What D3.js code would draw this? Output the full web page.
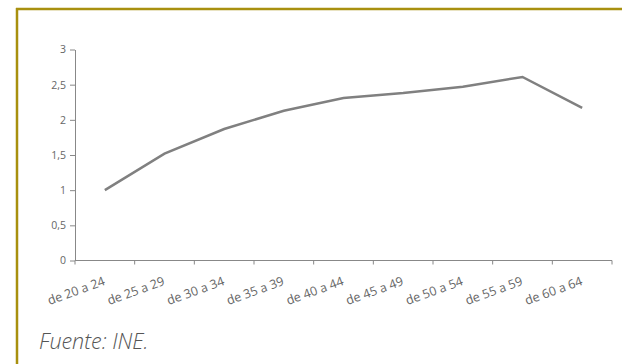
<!DOCTYPE html>
<html>
<head>
<meta charset="utf-8">
<script src="https://cdn.jsdelivr.net/npm/d3@7"></script>
<style>
  html, body { margin: 0; padding: 0; background: #fff; }
  svg { display: block; }
  .axis text { font-family: "Open Sans", sans-serif; fill: #666; }
  .axis path, .axis line { stroke: #888; }
</style>
</head>
<body>
<svg id="chart" width="622" height="364"></svg>
<script>
// Age groups and values
const categories = ["de 20 a 24", "de 25 a 29", "de 30 a 34", "de 35 a 39", "de 40 a 44",
                    "de 45 a 49", "de 50 a 54", "de 55 a 59", "de 60 a 64"];
const values = [1.0, 1.52, 1.87, 2.13, 2.31, 2.38, 2.47, 2.61, 2.17];
const yTicks = [0, 0.5, 1, 1.5, 2, 2.5, 3];
const sourceText = "Fuente: INE.";

const svg = d3.select("#chart");
const W = 622, H = 364;
const plot = { left: 75, right: 612, top: 49.5, bottom: 260.5 };

// Frame: gold rule along the top and left edge
const gold = "#a8900f";
svg.append("line").attr("x1", 16).attr("x2", W).attr("y1", 9).attr("y2", 9)
  .attr("stroke", gold).attr("stroke-width", 2.5);
svg.append("line").attr("x1", 17).attr("x2", 17).attr("y1", 8).attr("y2", H)
  .attr("stroke", gold).attr("stroke-width", 2.5);

const x = d3.scaleBand().domain(categories).range([plot.left, plot.right]);
const y = d3.scaleLinear().domain([0, 3]).range([plot.bottom, plot.top]);

// Y axis
const yAxis = svg.append("g").attr("class", "axis")
  .attr("transform", `translate(${plot.left},0)`)
  .call(d3.axisLeft(y).tickValues(yTicks).tickSize(5).tickSizeOuter(0)
    .tickFormat(d => String(d).replace(".", ",")));
yAxis.selectAll("text").attr("x", -9).style("font-size", "10.5px");

// X axis with ticks at band boundaries
const xAxis = svg.append("g").attr("class", "axis")
  .attr("transform", `translate(0,${plot.bottom})`);
xAxis.append("line").attr("x1", plot.left).attr("x2", plot.right)
  .attr("stroke", "#888");
const bounds = categories.map(c => x(c)).concat([plot.right]);
xAxis.selectAll(".tk").data(bounds).join("line").attr("class", "tk")
  .attr("x1", d => d).attr("x2", d => d).attr("y1", 0).attr("y2", 4)
  .attr("stroke", "#888");
xAxis.selectAll(".lbl").data(categories).join("text").attr("class", "lbl")
  .attr("transform", d => `translate(${x(d) + x.bandwidth() / 2 + 1},24) rotate(-20)`)
  .attr("text-anchor", "end")
  .style("font-size", "12.5px")
  .text(d => d);

// Series line
const line = d3.line()
  .x((d, i) => x(categories[i]) + x.bandwidth() / 2)
  .y(d => y(d));
svg.append("path").datum(values)
  .attr("d", line)
  .attr("fill", "none")
  .attr("stroke", "#808080")
  .attr("stroke-width", 2.5)
  .attr("stroke-linejoin", "miter");

// Source note
svg.append("text")
  .attr("x", 39).attr("y", 349)
  .attr("font-family", "Open Sans, sans-serif")
  .attr("font-style", "italic")
  .attr("font-weight", 300)
  .attr("font-size", 21.5)
  .attr("fill", "#555")
  .text(sourceText);
</script>
</body>
</html>
